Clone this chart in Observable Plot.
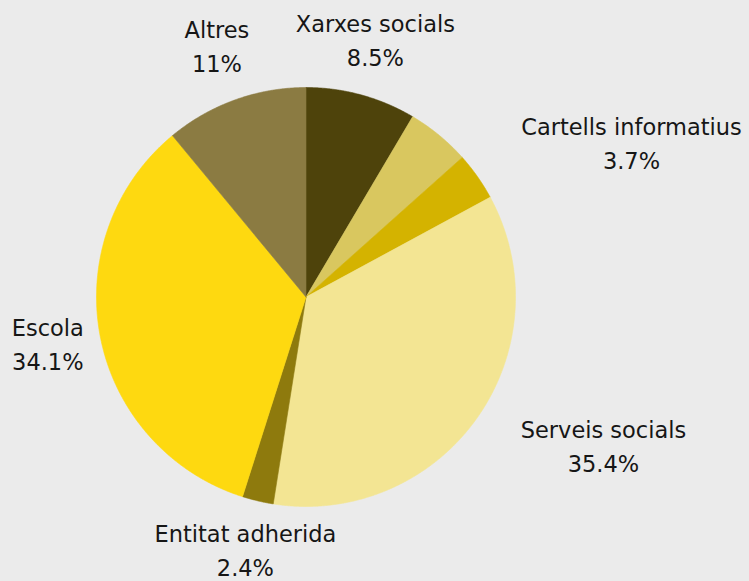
<!DOCTYPE html>
<html>
<head>
<meta charset="utf-8">
<script src="https://cdn.jsdelivr.net/npm/d3@7"></script>
<script src="https://cdn.jsdelivr.net/npm/@observablehq/plot@0.6"></script>
<style>
  html, body { margin: 0; padding: 0; background: #ebebeb; }
  #chart svg { display: block; }
</style>
</head>
<body>
<div id="chart"></div>
<script>
// ---- Data ----
const categories  = ["Xarxes socials", "", "Cartells informatius", "Serveis socials", "Entitat adherida", "Escola", "Altres"];
const values      = [8.5, 4.9, 3.7, 35.4, 2.4, 34.1, 11];
const valueLabels = ["8.5%", "", "3.7%", "35.4%", "2.4%", "34.1%", "11%"];
const colors      = ["#4e430b", "#d9c75f", "#d4b300", "#f3e593", "#8e7a0d", "#fed910", "#8b7b42"];

// ---- Layout ----
const W = 749, H = 581;
const cx = 305.5, cy = 296.5;   // pie centre in pixels
const R = 209.5;                 // pie radius
const RL = 263;                  // label anchor radius
const FONT = "'DejaVu Sans', sans-serif";
const FS = 22.5;

const arcs = d3.pie().sort(null).value(d => d)(values);

// polygon points for each slice
const pts = [];
arcs.forEach((a, i) => {
  const n = Math.max(2, Math.ceil((a.endAngle - a.startAngle) / (Math.PI / 720)));
  pts.push({i, x: 0, y: 0, color: colors[i]});
  for (let k = 0; k <= n; k++) {
    const t = a.startAngle + (a.endAngle - a.startAngle) * k / n;
    pts.push({i, x: R * Math.sin(t), y: -R * Math.cos(t), color: colors[i]});
  }
  pts.push({i, x: 0, y: 0, color: colors[i]});
});

// label positions
const ctx = document.createElement("canvas").getContext("2d");
ctx.font = `${FS}px ${FONT}`;
const labels = [];
arcs.forEach((a, i) => {
  if (!categories[i]) return;
  const m = (a.startAngle + a.endAngle) / 2;
  const s = Math.sin(m), c = Math.cos(m);
  let x = RL * s, y = -RL * c;
  if (s > 0.5) {
    const w = Math.max(ctx.measureText(categories[i]).width, ctx.measureText(valueLabels[i]).width);
    x += w / 2;
  }
  labels.push({x, y, text: categories[i] + "\n" + valueLabels[i]});
});

const chart = Plot.plot({
  width: W,
  height: H,
  margin: 0,
  x: {domain: [-cx, W - cx], range: [0, W], axis: null},
  y: {domain: [-cy, H - cy], range: [0, H], axis: null},
  color: {type: "identity"},
  style: {background: "transparent", fontFamily: FONT},
  marks: [
    Plot.line(pts, {x: "x", y: "y", z: "i", fill: "color", stroke: "color", strokeWidth: 0.6}),
    Plot.text(labels, {x: "x", y: "y", text: "text", fontSize: FS, lineHeight: 34 / FS, textAnchor: "middle", dy: -5, fill: "#161616"})
  ]
});
document.getElementById("chart").appendChild(chart);
</script>
</body>
</html>
